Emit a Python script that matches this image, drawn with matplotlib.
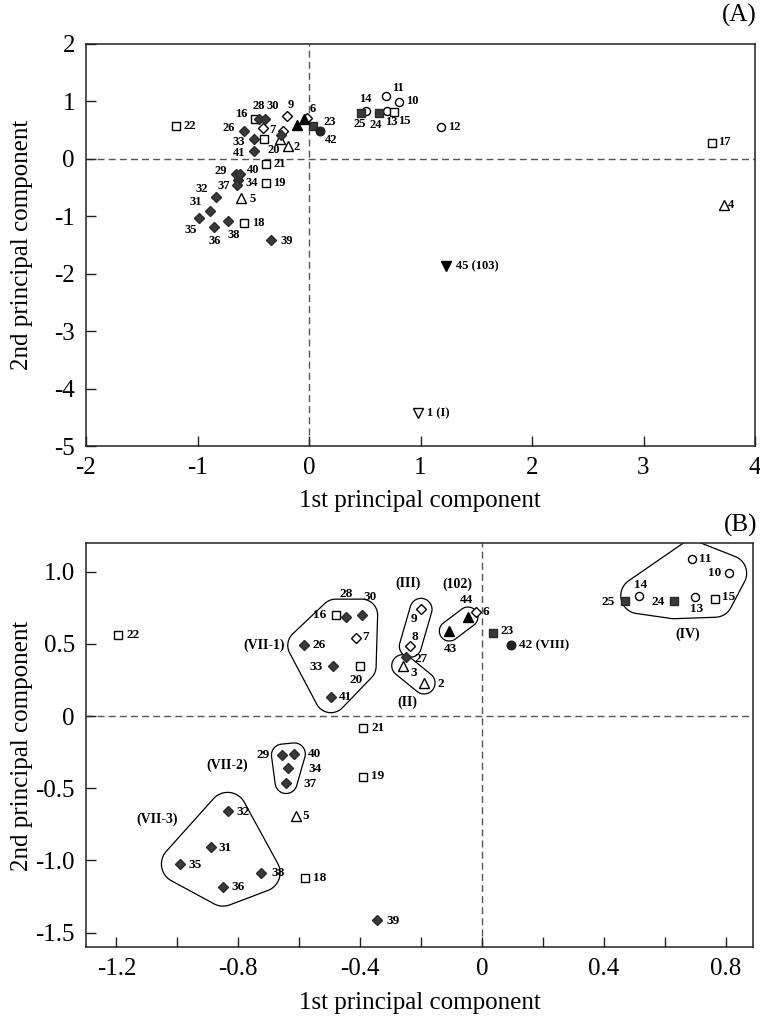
import numpy as np
import matplotlib.pyplot as plt
from matplotlib import font_manager
from matplotlib.patches import Polygon

# pick a Times-like serif that is installed
installed = {f.name for f in font_manager.fontManager.ttflist}
serif = [f for f in ['Liberation Serif', 'Times New Roman', 'Nimbus Roman',
                     'DejaVu Serif'] if f in installed]
plt.rcParams['font.family'] = serif + ['DejaVu Sans']
plt.rcParams['axes.unicode_minus'] = False

# sample numbers and their scores on the 1st / 2nd principal component
ids = ['2', '3', '5', '6', '7', '8', '9', '10', '11', '13', '14', '15', '16',
       '18', '19', '20', '21', '22', '23', '24', '25', '26', '27', '28', '29',
       '30', '31', '32', '33', '34', '35', '36', '37', '38', '39', '40', '41',
       '42', '43', '44']
pc1 = [-0.19, -0.26, -0.61, -0.02, -0.415, -0.235, -0.20, 0.81, 0.69, 0.70,
       0.515, 0.765, -0.48, -0.58, -0.39, -0.40, -0.39, -1.195, 0.035, 0.63,
       0.47, -0.585, -0.25, -0.445, -0.655, -0.395, -0.89, -0.835, -0.49,
       -0.637, -0.99, -0.85, -0.643, -0.725, -0.345, -0.616, -0.496, 0.096,
       -0.107, -0.046]
pc2 = [0.23, 0.35, -0.69, 0.72, 0.545, 0.485, 0.74, 0.99, 1.09, 0.825,
       0.835, 0.81, 0.70, -1.12, -0.425, 0.345, -0.085, 0.565, 0.575, 0.80,
       0.795, 0.49, 0.41, 0.69, -0.27, 0.70, -0.91, -0.66, 0.35,
       -0.36, -1.025, -1.185, -0.46, -1.085, -1.41, -0.262, 0.135, 0.49,
       0.59, 0.687]
kind = ['tri_o', 'tri_o', 'tri_o', 'dia_o', 'dia_o', 'dia_o', 'dia_o', 'cir_o',
        'cir_o', 'cir_o', 'cir_o', 'sq_o', 'sq_o', 'sq_o', 'sq_o', 'sq_o',
        'sq_o', 'sq_o', 'sq_f', 'sq_f', 'sq_f', 'dia_f', 'dia_f', 'dia_f',
        'dia_f', 'dia_f', 'dia_f', 'dia_f', 'dia_f', 'dia_f', 'dia_f', 'dia_f',
        'dia_f', 'dia_f', 'dia_f', 'dia_f', 'dia_f', 'cir_f', 'tri_f', 'tri_f']

# samples only visible in the full-range panel (A)
ids_a = ['1', '4', '12', '17', '45']
pc1_a = [0.98, 3.72, 1.185, 3.61, 1.23]
pc2_a = [-4.43, -0.80, 0.56, 0.28, -1.87]
kind_a = ['trd_o', 'tri_o', 'cir_o', 'sq_o', 'trd_f']

# cluster groups in panel (B)
groups = {'VII-1': ['16', '28', '30', '7', '26', '33', '20', '41'],
          'III': ['9', '8'], 'II': ['3', '2'], '102': ['43', '44'],
          'IV': ['14', '11', '10', '15', '13', '24'],
          'VII-2': ['29', '40', '34', '37'],
          'VII-3': ['32', '31', '35', '38', '36']}
group_pad = {'VII-1': 16, 'III': 11, 'II': 11, '102': 10, 'IV': 18,
             'VII-2': 11, 'VII-3': 19}
group_text = {'(VII-1)': (-0.715, 0.491), '(III)': (-0.244, 0.921),
              '(102)': (-0.081, 0.917), '(II)': (-0.245, 0.099),
              '(IV)': (0.676, 0.567), '(VII-2)': (-0.837, -0.34),
              '(VII-3)': (-1.067, -0.717)}

styles = {
    'tri_o': dict(marker='^', ms=6.5, mfc='white', mec='black'),
    'tri_f': dict(marker='^', ms=6.5, mfc='black', mec='black'),
    'trd_o': dict(marker='v', ms=6.5, mfc='white', mec='black'),
    'trd_f': dict(marker='v', ms=6.5, mfc='black', mec='black'),
    'dia_o': dict(marker='D', ms=5.2, mfc='white', mec='black'),
    'dia_f': dict(marker='D', ms=5.2, mfc='#3a3a3a', mec='#2a2a2a'),
    'sq_o': dict(marker='s', ms=5.3, mfc='white', mec='black'),
    'sq_f': dict(marker='s', ms=5.8, mfc='#3a3a3a', mec='#2a2a2a'),
    'cir_o': dict(marker='o', ms=5.8, mfc='white', mec='black'),
    'cir_f': dict(marker='o', ms=6.2, mfc='#222222', mec='#222222'),
}

# label offsets in pixels (dx, dy)
off_a = {'22': (14, 0), '16': (-14, 5), '28': (-1, 13), '30': (8, 13),
         '9': (4, 11), '6': (6, 9), '26': (-15, 3), '7': (10, -2),
         '23': (17, 4), '42': (11, -9), '33': (-16, -3), '20': (9, -11),
         '2': (9, -1), '41': (-15, -2), '21': (14, 0), '29': (-15, 3),
         '40': (13, 4), '34': (14, -3), '37': (-14, -1), '19': (14, 0),
         '32': (-14, 8), '5': (12, -1), '31': (-14, 9), '35': (-8, -12),
         '36': (0, -14), '38': (6, -14), '18': (14, 0), '39': (16, -1),
         '14': (-1, 12), '11': (12, 8), '10': (13, 1), '25': (-2, -11),
         '24': (-3, -12), '13': (4, -11), '15': (10, -9), '12': (13, 0),
         '17': (13, 1), '4': (7, 0)}
off_b = {'22': (15, 0), '16': (-16, 0), '28': (0, 23), '30': (8, 18),
         '7': (10, 1), '26': (15, 0), '33': (-17, -1), '20': (-4, -14),
         '41': (15, 0), '9': (-7, -10), '8': (5, 9), '27': (15, -2),
         '3': (11, -7), '2': (17, -1), '21': (15, 0), '29': (-19, 0),
         '40': (20, 0), '34': (27, -1), '37': (24, -1), '19': (14, 1),
         '32': (15, -1), '5': (10, 0), '31': (14, -1), '35': (15, -1),
         '38': (17, 0), '18': (14, 0), '36': (15, 0), '39': (16, -1),
         '44': (-1, 17), '6': (10, 0), '43': (1, -18), '23': (15, 2),
         '25': (-17, -1), '14': (2, 11), '24': (-16, -1), '13': (1, -12),
         '15': (14, 2), '11': (13, 0), '10': (-14, 0)}
long_a = {'45': ('45 (103)', 10), '1': ('1 (I)', 9)}
long_b = {'42': ('42 (VIII)', 8)}

lab_kw = dict(fontweight='bold', textcoords='offset pixels')


def convex_hull(p):
    p = sorted(map(tuple, p))

    def cross(o, a, b):
        return (a[0]-o[0])*(b[1]-o[1]) - (a[1]-o[1])*(b[0]-o[0])
    lower, upper = [], []
    for q in p:
        while len(lower) >= 2 and cross(lower[-2], lower[-1], q) <= 0:
            lower.pop()
        lower.append(q)
    for q in reversed(p):
        while len(upper) >= 2 and cross(upper[-2], upper[-1], q) <= 0:
            upper.pop()
        upper.append(q)
    return np.array(lower[:-1] + upper[:-1])


def style_axes(ax):
    for s in ax.spines.values():
        s.set_linewidth(1.1)
        s.set_color('#222222')
    ax.tick_params(direction='in', length=7, width=1, labelsize=18,
                   color='#222222', pad=8)
    ax.axhline(0, color='#555555', lw=1, ls=(0, (5, 3)), zorder=0)
    ax.axvline(0, color='#555555', lw=1, ls=(0, (5, 3)), zorder=0)


def draw_points(ax, xs, ys, kinds):
    for x, y, k in zip(xs, ys, kinds):
        ax.plot(x, y, ls='none', mew=1.0, zorder=3, **styles[k])


fig = plt.figure(figsize=(7.6, 10.16), dpi=100)

# ---- panel A ----
axA = fig.add_axes([86/760, 1-446/1016, 669/760, 402/1016])
style_axes(axA)
axA.set_xlim(-2, 4)
axA.set_ylim(-5, 2)
axA.set_xticks(range(-2, 5))
axA.set_yticks(range(-5, 3))
draw_points(axA, pc1, pc2, kind)
draw_points(axA, pc1_a, pc2_a, kind_a)
for n, x, y in zip(ids + ids_a, pc1 + pc1_a, pc2 + pc2_a):
    if n in off_a:
        axA.annotate(n, (x, y), xytext=off_a[n], ha='center', va='center',
                     fontsize=9, **lab_kw)
    elif n in long_a:
        axA.annotate(long_a[n][0], (x, y), xytext=(long_a[n][1], 0),
                     ha='left', va='center', fontsize=9, **lab_kw)

# ---- panel B ----
axB = fig.add_axes([86/760, 1-947/1016, 667/760, 404/1016])
style_axes(axB)
axB.set_xlim(-1.3, 0.89)
axB.set_ylim(-1.6, 1.2)
xt = np.round(np.arange(-1.2, 0.81, 0.2), 1)
axB.set_xticks(xt)
axB.set_xticklabels(['-1.2', '', '-0.8', '', '-0.4', '', '0', '', '0.4', '', '0.8'])
axB.set_yticks([-1.5, -1.0, -0.5, 0, 0.5, 1.0])
axB.set_yticklabels(['-1.5', '-1.0', '-0.5', '0', '0.5', '1.0'])
draw_points(axB, pc1, pc2, kind)
for n, x, y in zip(ids, pc1, pc2):
    if n in off_b:
        axB.annotate(n, (x, y), xytext=off_b[n], ha='center', va='center',
                     fontsize=9.5, **lab_kw)
    elif n in long_b:
        axB.annotate(long_b[n][0], (x, y), xytext=(long_b[n][1], 0),
                     ha='left', va='center', fontsize=9.5, **lab_kw)

# group outlines: hull of padded circles around members (in pixel space)
t = np.linspace(0, 2*np.pi, 72, endpoint=False)
circ = np.column_stack([np.cos(t), np.sin(t)])
for g, members in groups.items():
    idx = [ids.index(m) for m in members]
    pts = axB.transData.transform(np.column_stack([np.array(pc1)[idx],
                                                   np.array(pc2)[idx]]))
    ring = np.concatenate([p + group_pad[g]*circ for p in pts])
    hull = axB.transData.inverted().transform(convex_hull(ring))
    axB.add_patch(Polygon(hull, closed=True, fill=False, lw=0.9,
                          ec='black', zorder=2))
for txt, (x, y) in group_text.items():
    axB.text(x, y, txt, fontsize=10, fontweight='bold', ha='center', va='center')

# axis titles and panel letters
for yc in (501, 1003):
    fig.text(420/760, 1-yc/1016, '1st principal component', fontsize=18,
             ha='center', va='center')
for yc in (245, 746):
    fig.text(22/760, 1-yc/1016, '2nd principal component', fontsize=18,
             rotation=90, ha='center', va='center')
fig.text(757/760, 1-15/1016, '(A)', fontsize=18, ha='right', va='center')
fig.text(757/760, 1-525/1016, '(B)', fontsize=18, ha='right', va='center')

fig.savefig('out.png', dpi=100)
